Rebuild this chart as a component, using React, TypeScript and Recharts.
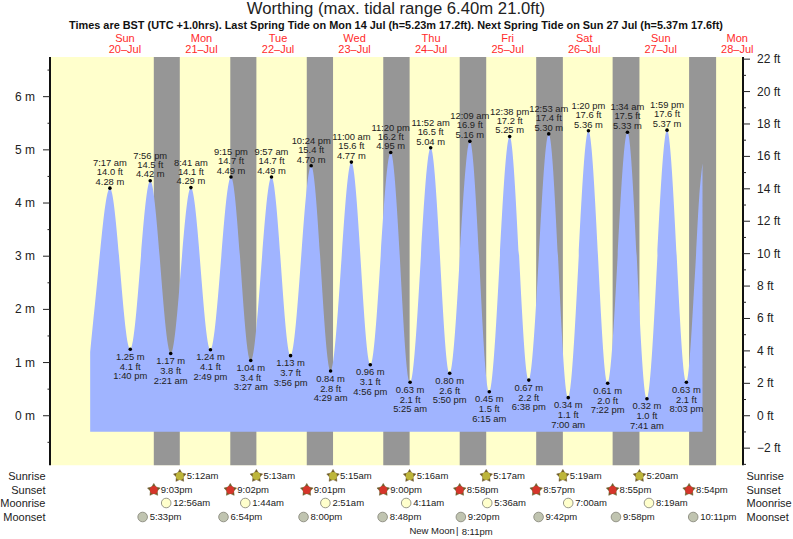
import {
  Area,
  ComposedChart,
  Line,
  ReferenceArea,
  ReferenceLine,
  Scatter,
  XAxis,
  YAxis,
} from 'recharts';

const FONT = '"Liberation Sans", Arial, sans-serif';
const WATER = '#a0b4ff';
const DAY_COLOR = '#ffffcc';
const NIGHT_COLOR = '#969696';
const TEXT = '#222222';

// tide extremes, day index counted from Sun 20 Jul
const tideDays = [0, 0, 0, 1, 1, 1, 1, 2, 2, 2, 2, 3, 3, 3, 3, 4, 4, 4, 5, 5, 5, 5, 6, 6, 6, 6, 7, 7, 7, 7];
const tideTimes = [
  '7:17 am', '1:40 pm', '7:56 pm', '2:21 am', '8:41 am', '2:49 pm', '9:15 pm', '3:27 am', '9:57 am', '3:56 pm',
  '10:24 pm', '4:29 am', '11:00 am', '4:56 pm', '11:20 pm', '5:25 am', '11:52 am', '5:50 pm', '12:09 am', '6:15 am',
  '12:38 pm', '6:38 pm', '12:53 am', '7:00 am', '1:20 pm', '7:22 pm', '1:34 am', '7:41 am', '1:59 pm', '8:03 pm',
];
const tideMetres = [
  4.28, 1.25, 4.42, 1.17, 4.29, 1.24, 4.49, 1.04, 4.49, 1.13, 4.7, 0.84, 4.77, 0.96, 4.95, 0.63, 5.04, 0.8, 5.16, 0.45,
  5.25, 0.67, 5.3, 0.34, 5.36, 0.61, 5.33, 0.32, 5.37, 0.63,
];
const tideFeet = [
  14.0, 4.1, 14.5, 3.8, 14.1, 4.1, 14.7, 3.4, 14.7, 3.7, 15.4, 2.8, 15.6, 3.1, 16.2, 2.1, 16.5, 2.6, 16.9, 1.5,
  17.2, 2.2, 17.4, 1.1, 17.6, 2.0, 17.5, 1.0, 17.6, 2.1,
];

// where the curve starts and stops, hours since midnight on the 20th / metres
const leadIn = [
  { h: 1.1, level: 1.2 },
  { h: 2.6, level: 2.1 },
];
const leadOut = [
  { h: 190.8, level: 2.73 },
  { h: 192.0, level: 4.05 },
  { h: 193.1, level: 4.75 },
];

const dayNames = ['Sun', 'Mon', 'Tue', 'Wed', 'Thu', 'Fri', 'Sat', 'Sun', 'Mon'];
const dayDates = ['20–Jul', '21–Jul', '22–Jul', '23–Jul', '24–Jul', '25–Jul', '26–Jul', '27–Jul', '28–Jul'];

const sunsets = ['9:03pm', '9:02pm', '9:01pm', '9:00pm', '8:58pm', '8:57pm', '8:55pm', '8:54pm'];
const sunrises = ['5:12am', '5:13am', '5:15am', '5:16am', '5:17am', '5:19am', '5:20am'];
const moonrises = ['12:56am', '1:44am', '2:51am', '4:11am', '5:36am', '7:00am', '8:19am'];
const moonsets = ['5:33pm', '6:54pm', '8:00pm', '8:48pm', '9:20pm', '9:42pm', '9:58pm', '10:11pm'];
const lastSunrise = 197.37; // 5:22am on the 28th, no label in the picture

const metreTicks = [-0.5, 0, 0.5, 1, 1.5, 2, 2.5, 3, 3.5, 4, 4.5, 5, 5.5, 6, 6.5];
const feetTicks = [-3, -2, -1, 0, 1, 2, 3, 4, 5, 6, 7, 8, 9, 10, 11, 12, 13, 14, 15, 16, 17, 18, 19, 20, 21, 22];

const toHours = (time: string) => {
  const m = time.match(/(\d+):(\d+)\s*(am|pm)/)!;
  return (Number(m[1]) % 12) + (m[3] === 'pm' ? 12 : 0) + Number(m[2]) / 60;
};

const X_MIN = -11.5;
const X_MAX = 205.8;
const M_MAX = 6.746;
const M_MIN = -2.318; // extends under the plot so the almanac rows share the time scale
const M_FLOOR = -0.93; // bottom of the visible plot
const WATER_BASE = -0.3;
const FT_PER_M = 1 / 0.3048;

const tideData = [
  ...leadIn,
  ...tideTimes.map((time, i) => ({
    h: tideDays[i] * 24 + toHours(time),
    level: tideMetres[i],
    time,
    ft: tideFeet[i],
    high: i % 2 === 0,
  })),
  ...leadOut,
];

const rowData = (labels: string[], firstDay: number, row: number) =>
  labels.map((label, i) => ({ h: (firstDay + i) * 24 + toHours(label), row, label }));

const sunriseData = rowData(sunrises, 1, 419);
const sunsetData = rowData(sunsets, 0, 433);
const moonriseData = rowData(moonrises, 1, 446);
const moonsetData = rowData(moonsets, 0, 460);
const moonPhase = [{ h: 116.18, row: 474 }];

const nights = sunsetData.map((s, i) => ({
  from: s.h,
  to: i < sunriseData.length ? sunriseData[i].h : lastSunrise,
}));

const starPath = (cx: number, cy: number) => {
  let d = '';
  for (let i = 0; i < 10; i++) {
    const r = i % 2 === 0 ? 6.6 : 3.6;
    const a = (Math.PI / 5) * i - Math.PI / 2;
    d += `${i === 0 ? 'M' : 'L'}${cx + r * Math.cos(a)},${cy + r * Math.sin(a)}`;
  }
  return d + 'Z';
};

const markerText = (props: any) => (
  <text x={props.cx + 7} y={props.cy} dy={3.4} fontSize={9.5} fontFamily={FONT} fill={TEXT}>
    {props.payload.label}
  </text>
);

const StarMarker = (fill: string) => (props: any) => (
  <g>
    <path d={starPath(props.cx, props.cy)} fill="#6e5a28" stroke="#6e5a28" strokeWidth={0.5} />
    <circle cx={props.cx} cy={props.cy} r={3.9} fill={fill} />
    {markerText(props)}
  </g>
);

const MoonMarker = (fill: string) => (props: any) => (
  <g>
    <circle cx={props.cx} cy={props.cy} r={4.8} fill={fill} stroke="#8c8c80" strokeWidth={0.9} />
    {markerText(props)}
  </g>
);

const MoonPhaseLabel = (props: any) => (
  <g fontSize={9.5} fontFamily={FONT} fill={TEXT}>
    <text x={props.cx - 2.3} y={props.cy} dy={3.4} textAnchor="end">
      New Moon
    </text>
    <text x={props.cx} y={props.cy} dy={3.4} textAnchor="middle">
      |
    </text>
    <text x={props.cx + 4.5} y={props.cy} dy={3.8}>
      8:11pm
    </text>
  </g>
);

const TideDot = (props: any) => {
  const { cx, cy, payload, index } = props;
  if (!payload.time) return <g key={index} />;
  const lines = payload.high
    ? [
        [payload.time, -22],
        [`${payload.ft.toFixed(1)} ft`, -13],
        [`${payload.level.toFixed(2)} m`, -3.2],
      ]
    : [
        [`${payload.level.toFixed(2)} m`, 10.5],
        [`${payload.ft.toFixed(1)} ft`, 20.5],
        [payload.time, 30],
      ];
  return (
    <g key={index}>
      <circle cx={cx} cy={cy} r={1.8} fill="#000" />
      {lines.map(([t, dy]) => (
        <text key={t} x={cx} y={cy + dy} textAnchor="middle" fontSize={9.4} fontFamily={FONT} fill={TEXT}>
          {t}
        </text>
      ))}
    </g>
  );
};

const DayTick = ({ x, payload }: any) => {
  const i = Math.round((payload.value - 12) / 24);
  return (
    <g fontSize={11} fontFamily={FONT} fill="#ff2a2a" textAnchor="middle">
      <text x={x} y={41.5}>
        {dayNames[i]}
      </text>
      <text x={x} y={53.2}>
        {dayDates[i]}
      </text>
    </g>
  );
};

const MetreTick = ({ x, y, payload }: any) => {
  const major = Number.isInteger(payload.value);
  return (
    <g>
      <line x1={x} x2={x - (major ? 7 : 2.5)} y1={y} y2={y} stroke="#222" strokeWidth={1} />
      {major && (
        <text x={x - 15} y={y + 4} textAnchor="end" fontSize={12} fontFamily={FONT} fill={TEXT}>
          {`${payload.value} m`}
        </text>
      )}
    </g>
  );
};

const FeetTick = ({ x, y, payload }: any) => {
  const major = payload.value % 2 === 0;
  return (
    <g>
      <line x1={x} x2={x + (major ? 7 : 3)} y1={y} y2={y} stroke="#222" strokeWidth={1} />
      {major && (
        <text x={x + 14} y={y + 4} fontSize={12} fontFamily={FONT} fill={TEXT}>
          {`${payload.value < 0 ? '−' : ''}${Math.abs(payload.value)} ft`}
        </text>
      )}
    </g>
  );
};

const rowNames = ['Sunrise', 'Sunset', 'Moonrise', 'Moonset'];
const rowPixels = [480, 494, 507, 521];

export default function App() {
  return (
    <div style={{ position: 'absolute', left: 0, top: 0, width: 793, height: 539, background: '#fff' }}>
      <ComposedChart
        width={793}
        height={539}
        data={tideData}
        margin={{ top: 0, right: 0, bottom: 0, left: 0 }}
      >
        <XAxis
          xAxisId={0}
          dataKey="h"
          type="number"
          orientation="top"
          height={57}
          domain={[X_MIN, X_MAX]}
          ticks={dayDates.map((_, i) => 12 + i * 24)}
          tick={DayTick}
          axisLine={false}
          tickLine={false}
          interval={0}
        />
        <YAxis
          yAxisId="m"
          width={50}
          domain={[M_MIN, M_MAX]}
          ticks={metreTicks}
          tick={MetreTick}
          axisLine={false}
          tickLine={false}
          tickSize={0}
          tickMargin={0}
          interval={0}
        />
        <YAxis
          yAxisId="ft"
          orientation="right"
          width={50}
          domain={[M_MIN * FT_PER_M, M_MAX * FT_PER_M]}
          ticks={feetTicks}
          tick={FeetTick}
          axisLine={false}
          tickLine={false}
          tickSize={0}
          tickMargin={0}
          interval={0}
        />
        <YAxis yAxisId="rows" hide reversed domain={[0, 482]} />

        <ReferenceArea
          yAxisId="m"
          x1={X_MIN}
          x2={X_MAX}
          y1={M_FLOOR}
          y2={M_MAX}
          fill={DAY_COLOR}
          fillOpacity={1}
          stroke="none"
        />
        {nights.map(n => (
          <ReferenceArea
            key={n.from}
            yAxisId="m"
            x1={n.from}
            x2={n.to}
            y1={M_FLOOR}
            y2={M_MAX}
            fill={NIGHT_COLOR}
            fillOpacity={1}
            stroke="none"
          />
        ))}

        <Area
          yAxisId="m"
          dataKey="level"
          type="monotone"
          baseValue={WATER_BASE}
          fill={WATER}
          fillOpacity={1}
          stroke="none"
          isAnimationActive={false}
        />
        <Line
          yAxisId="m"
          dataKey="level"
          type="monotone"
          stroke="none"
          dot={TideDot}
          activeDot={false}
          isAnimationActive={false}
        />
        {/* the feet axis only draws when a series is bound to it */}
        <Line yAxisId="ft" dataKey="ft" stroke="none" dot={false} activeDot={false} isAnimationActive={false} />

        <ReferenceLine
          yAxisId="m"
          segment={[
            { x: X_MIN, y: M_FLOOR },
            { x: X_MIN, y: M_MAX },
          ]}
          stroke="#111"
          strokeWidth={2}
        />
        <ReferenceLine
          yAxisId="m"
          segment={[
            { x: X_MAX, y: M_FLOOR },
            { x: X_MAX, y: M_MAX },
          ]}
          stroke="#111"
          strokeWidth={2}
        />

        <Scatter yAxisId="rows" data={sunriseData} dataKey="row" shape={StarMarker('#bdb53a')} isAnimationActive={false} />
        <Scatter yAxisId="rows" data={sunsetData} dataKey="row" shape={StarMarker('#d5352a')} isAnimationActive={false} />
        <Scatter yAxisId="rows" data={moonriseData} dataKey="row" shape={MoonMarker('#ffffcc')} isAnimationActive={false} />
        <Scatter yAxisId="rows" data={moonsetData} dataKey="row" shape={MoonMarker('#c0c4b0')} isAnimationActive={false} />
        <Scatter yAxisId="rows" data={moonPhase} dataKey="row" shape={MoonPhaseLabel} isAnimationActive={false} />

        <text x={396} y={14} textAnchor="middle" fontSize={16.7} fontFamily={FONT} fill={TEXT}>
          Worthing (max. tidal range 6.40m 21.0ft)
        </text>
        <text x={396} y={29} textAnchor="middle" fontSize={10.9} fontWeight="bold" fontFamily={FONT} fill="#111">
          Times are BST (UTC +1.0hrs). Last Spring Tide on Mon 14 Jul (h=5.23m 17.2ft). Next Spring Tide on Sun 27 Jul
          (h=5.37m 17.6ft)
        </text>
        {rowNames.map((name, i) => (
          <g key={name} fontSize={11} fontFamily={FONT} fill={TEXT}>
            <text x={45.5} y={rowPixels[i]} textAnchor="end">
              {name}
            </text>
            <text x={746.5} y={rowPixels[i]}>
              {name}
            </text>
          </g>
        ))}
      </ComposedChart>
    </div>
  );
}
